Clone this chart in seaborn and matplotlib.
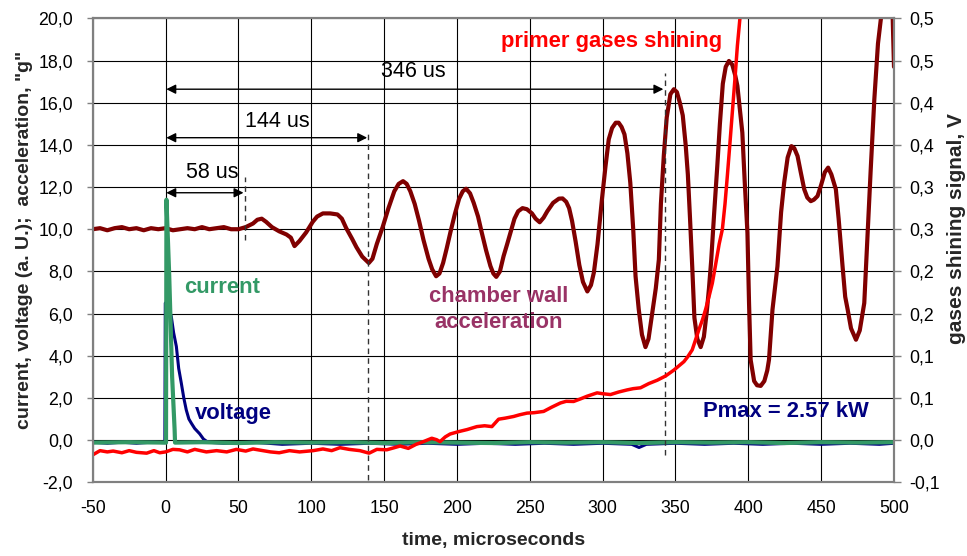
import matplotlib
matplotlib.use("Agg")
import matplotlib.pyplot as plt
import seaborn as sns
import pandas as pd
import numpy as np

# ---------------- data ----------------
acc_t = [-50, -45, -40, -35, -30, -25, -20, -15, -10, -5, 0, 5, 10, 15, 20, 25, 30, 35, 40, 45, 50, 55,
         60, 63, 66, 69, 73, 78, 83, 86, 88.5, 92, 96.5, 101, 104, 108, 113, 118, 121, 124, 128, 131,
         135, 139.5, 142, 145, 149, 153, 157, 160, 163, 165.5, 168, 171, 174, 177, 180.5, 183, 185.7,
         188, 190.5, 193, 195.5, 198.5, 201.5, 204, 206.3, 209, 211.5, 214.5, 217, 220, 223, 225, 227,
         229.5, 232, 234.5, 237, 239.5, 242, 245, 248, 251.5, 254, 256.8, 259.5, 262, 266, 270, 272.5,
         275, 277, 279, 281.5, 284, 286.5, 289.5, 292, 294, 296.5, 299.5, 302, 304.2, 306.5, 309, 311,
         313, 315, 317, 319, 321, 322.6, 324.8, 327, 329.4, 331.5, 334, 336.5, 338.6, 340, 342, 344,
         346.5, 348.9, 351, 353, 355, 357, 358.5, 360, 361.5, 363, 365, 367.3, 369.5, 371.5, 373, 374.5,
         376.5, 378.7, 380.5, 382.5, 384.5, 386.7, 389, 391, 392.5, 394, 395.9, 397.5, 399.4, 400.5,
         401.6, 404, 406, 408.5, 411, 413, 414.2, 416.6, 420, 422.5, 424.6, 427, 429.6, 431.5, 433.8,
         436, 438.4, 440.5, 442.9, 445, 447.5, 450, 452.5, 454.8, 457, 460.1, 462, 464.7, 466.5, 468.2,
         470.5, 473.9, 476.5, 479.6, 481.9, 484, 486.5, 489, 491.1, 494, 497, 499, 500]
acc_v = [10.0, 10.05, 9.95, 10.05, 10.1, 10.0, 10.05, 9.95, 10.05, 10.0, 10.05, 9.95, 10.0, 10.05, 10.0,
         10.1, 10.0, 10.05, 10.1, 10.0, 10.0, 10.1,
         10.27, 10.45, 10.5, 10.35, 10.1, 9.9, 9.75, 9.6, 9.2, 9.45, 9.85, 10.35, 10.6, 10.75, 10.75,
         10.7, 10.5, 10.05, 9.55, 9.15,
         8.7, 8.4, 8.6, 9.3, 10.1, 11.0, 11.8, 12.15, 12.28, 12.15, 11.8, 11.2, 10.4, 9.5, 8.6, 8.1, 7.77,
         7.9, 8.4, 9.1, 9.85, 10.7, 11.45, 11.8, 11.92, 11.7, 11.25, 10.6, 9.85, 9.0, 8.25, 7.9, 7.74,
         8.0, 8.72, 9.3, 9.9, 10.5, 10.85, 11.0, 10.95, 10.75, 10.5, 10.33, 10.55, 10.85, 11.25, 11.45, 11.46,
         11.3, 11.0, 10.4, 9.4, 8.3, 7.5, 7.05, 7.35, 7.95, 9.3, 11.4, 13.0, 14.26, 14.8, 15.05, 15.05,
         14.85, 14.5, 13.6, 12.2, 10.0, 7.77, 6.2, 5.0, 4.41, 4.8, 6.0, 7.2, 8.56, 11.2, 13.5, 15.3,
         16.4, 16.64, 16.5, 16.0, 15.4, 14.0, 12.6, 10.5, 8.24, 5.8, 4.8, 4.41, 4.9, 6.1, 7.2, 8.5,
         10.7, 12.99, 15.0, 16.9, 17.7, 17.98, 17.8, 17.3, 16.8, 15.8, 14.58, 12.3, 9.83, 6.5,
         3.81, 2.8, 2.6, 2.57, 2.8, 3.3, 3.81, 6.19, 8.24, 10.8, 12.2, 13.4, 13.94, 13.85, 13.47,
         12.7, 11.89, 11.5, 11.33, 11.4, 11.57, 12.1, 12.7, 12.92, 12.6, 11.89, 10.5, 8.24, 6.8, 6.19,
         5.3, 4.76, 5.2, 6.5, 9.83, 12.8, 16.16, 18.8, 20.04, 21.5, 21.5, 20.3, 17.7]

shine_t = [-50, -45, -40, -36, -30, -25, -20, -13, -8, -4, 0, 5, 9.6, 15, 20, 28, 35, 42, 48.6, 55, 60,
           66.8, 72, 78, 85, 92, 101.3, 108, 114, 119.7, 126, 133.4, 139.7, 145, 151.8, 157, 161, 166.6,
           172, 177, 182.7, 186, 188.4, 192, 195.3, 201, 207, 213.7, 219, 224, 228.6, 233, 238.9, 243,
           248.1, 253, 259.5, 265, 271, 275, 280.1, 285, 289.3, 296.2, 300, 305.4, 311, 316.8, 321, 326,
           331.7, 337.5, 343.2, 348.9, 352, 355.8, 358.5, 361.5, 364, 366.1, 368.5, 370.7, 373, 375.3,
           377.5, 380, 382.2, 384, 385.6, 387.3, 389, 390.8, 392.5, 394.3, 396]
shine_v = [-0.0175, -0.0125, -0.014, -0.013, -0.015, -0.0125, -0.0145, -0.0155, -0.0125, -0.015, -0.014,
           -0.011, -0.0115, -0.014, -0.011, -0.014, -0.0125, -0.014, -0.011, -0.013, -0.0105, -0.0125,
           -0.014, -0.015, -0.0125, -0.014, -0.0125, -0.0105, -0.0125, -0.009, -0.011, -0.0125, -0.0155,
           -0.011, -0.0115, -0.009, -0.007, -0.0098, -0.005, -0.0018, 0.0022, 0.0005, -0.0018, 0.0038,
           0.0072, 0.010, 0.0125, 0.016, 0.017, 0.016, 0.0248, 0.026, 0.028, 0.030, 0.032, 0.0325, 0.034,
           0.039, 0.044, 0.046, 0.0458, 0.049, 0.052, 0.056, 0.055, 0.054, 0.057, 0.0595, 0.061, 0.062,
           0.067, 0.071, 0.076, 0.083, 0.0875, 0.093, 0.099, 0.107, 0.120, 0.131, 0.1425, 0.155, 0.170,
           0.186, 0.2075, 0.2325, 0.250, 0.280, 0.313, 0.350, 0.388, 0.4275, 0.4675, 0.501, 0.535]

volt_t = [-50, -40, -30, -20, -10, -0.5, -0.2, 1.5, 3.9, 5.5, 7.4, 9.0, 10.8, 12.5, 14.2, 16.0, 17.7,
          20.0, 23.4, 26.0, 29.0, 40, 60, 80, 100, 120, 140, 160, 180, 200, 220, 240, 260, 280, 300,
          320, 325, 330, 350, 370, 390, 410, 430, 450, 470, 490, 500]
volt_v = [-0.1, -0.15, -0.1, -0.15, -0.1, -0.12, 6.5, 6.3, 5.87, 5.1, 4.44, 3.4, 2.7, 2.0, 1.43, 1.0,
          0.8, 0.55, 0.3, 0.05, -0.1, -0.15, -0.1, -0.2, -0.15, -0.2, -0.15, -0.2, -0.15, -0.2, -0.15,
          -0.2, -0.15, -0.2, -0.15, -0.2, -0.35, -0.2, -0.15, -0.2, -0.15, -0.2, -0.15, -0.2, -0.15,
          -0.2, -0.15]

curr_t = [-50, -25, 0.3, 0.6, 2.5, 4.5, 6.2, 6.5, 25, 50, 75, 100, 125, 150, 175, 200, 225, 250, 275,
          300, 325, 350, 375, 400, 425, 450, 475, 500]
curr_v = [-0.12, -0.1, -0.12, 11.4, 7.8, 3.0, 0.5, -0.12, -0.1, -0.14, -0.1, -0.12, -0.1, -0.14, -0.1,
          -0.12, -0.14, -0.1, -0.12, -0.1, -0.14, -0.1, -0.12, -0.1, -0.14, -0.1, -0.12, -0.1]

x_ticks = [-50, 0, 50, 100, 150, 200, 250, 300, 350, 400, 450, 500]
x_labels = ["-50", "0", "50", "100", "150", "200", "250", "300", "350", "400", "450", "500"]
y_ticks = [-2, 0, 2, 4, 6, 8, 10, 12, 14, 16, 18, 20]
y_labels = ["-2,0", "0,0", "2,0", "4,0", "6,0", "8,0", "10,0", "12,0", "14,0", "16,0", "18,0", "20,0"]
y2_ticks = [-0.05, 0.0, 0.05, 0.1, 0.15, 0.2, 0.25, 0.3, 0.35, 0.4, 0.45, 0.5]
y2_labels = ["-0,1", "0,0", "0,1", "0,1", "0,2", "0,2", "0,3", "0,3", "0,4", "0,4", "0,5", "0,5"]

# interval annotations: (label, end time, arrow level, label x, label y, dashed line bottom/top)
intervals = [
    ("58 us", 54.3, 11.73, 31.8, 12.69, 9.5, 12.5),
    ("144 us", 139.2, 14.34, 76.5, 15.09, -1.9, 14.66),
    ("346 us", 342.5, 16.64, 170.0, 17.47, -0.7, 17.43),
]

# ---------------- drawing ----------------
sns.set_theme(style="white")
plt.rcParams["font.family"] = ["Liberation Sans", "DejaVu Sans"]

fig = plt.figure(figsize=(9.67, 5.56), dpi=100)
ax = fig.add_axes([0.0959, 0.1326, 0.9245 - 0.0959, 0.967 - 0.1326])

acc = pd.DataFrame({"t": acc_t, "v": acc_v})
volt = pd.DataFrame({"t": volt_t, "v": volt_v})
curr = pd.DataFrame({"t": curr_t, "v": curr_v})
shine = pd.DataFrame({"t": shine_t, "v": shine_v})

sns.lineplot(data=acc, x="t", y="v", ax=ax, color="#800000", lw=3.0, estimator=None, sort=False)
sns.lineplot(data=volt, x="t", y="v", ax=ax, color="#000080", lw=2.2, estimator=None, sort=False)
sns.lineplot(data=curr, x="t", y="v", ax=ax, color="#339966", lw=3.0, estimator=None, sort=False)

ax.set_xlim(-50, 500)
ax.set_ylim(-2, 20)
ax.set_xticks(x_ticks)
ax.set_xticklabels(x_labels)
ax.set_yticks(y_ticks)
ax.set_yticklabels(y_labels)
ax.grid(True, color="black", lw=0.8)
ax.set_axisbelow(True)
for s in ax.spines.values():
    s.set_color("#808080")
    s.set_linewidth(1.5)
ax.tick_params(axis="both", which="major", direction="out", length=4, width=1,
               color="#808080", labelsize=12.8, labelcolor="black")
ax.tick_params(axis="y", pad=10)
ax.tick_params(axis="x", pad=9)

ax.set_xlabel("time, microseconds", fontsize=14, fontweight="bold", va="center")
ax.xaxis.set_label_coords(0.5, -0.1265)
ax.set_ylabel('current, voltage (a. U.);  acceleration, "g"', fontsize=14, fontweight="bold",
              va="center")
ax.yaxis.set_label_coords(-0.0857, 0.522)

# right axis
ax2 = ax.twinx()
sns.lineplot(data=shine, x="t", y="v", ax=ax2, color="#FF0000", lw=2.5, estimator=None, sort=False)
ax2.set_ylim(-0.05, 0.5)
ax2.set_yticks(y2_ticks)
ax2.set_yticklabels(y2_labels)
ax2.set_xlim(-50, 500)
ax2.grid(False)
for s in ax2.spines.values():
    s.set_color("#808080")
    s.set_linewidth(1.5)
ax2.tick_params(axis="y", direction="out", length=5, width=1, color="#808080",
                labelsize=12.8, labelcolor="black", pad=6)
ax2.set_ylabel("gases shining signal, V", fontsize=15, fontweight="bold", va="center",
               rotation=90)
ax2.yaxis.set_label_coords(1.0774, 0.546)
ax2.set_xlabel("")

# interval arrows and dashed markers
for label, tend, ylev, lx, ly, yb, yt in intervals:
    ax.annotate("", xy=(tend - 0.8, ylev), xytext=(0.5, ylev),
                arrowprops=dict(arrowstyle="<|-|>", color="black", lw=1.0,
                                mutation_scale=14, shrinkA=0, shrinkB=0))
    ax.plot([tend, tend], [yb, yt], color="#333333", lw=1.0, ls=(0, (4, 3)))
    ax.text(lx, ly, label, fontsize=15.5, ha="center", va="center", color="black")

# series labels
ax.text(38.9, 7.25, "current", color="#339966", fontsize=15.8, fontweight="bold",
        ha="center", va="center")
ax.text(46.3, 1.25, "voltage", color="#000080", fontsize=15.8, fontweight="bold",
        ha="center", va="center")
ax.text(228.6, 6.19, "chamber wall\nacceleration", color="#993366", fontsize=15.8,
        fontweight="bold", ha="center", va="center", linespacing=1.3)
ax.text(306.0, 18.9, "primer gases shining", color="#FF0000", fontsize=15.8,
        fontweight="bold", ha="center", va="center")
ax.text(425.7, 1.36, "Pmax = 2.57 kW", color="#000080", fontsize=15.8,
        fontweight="bold", ha="center", va="center")

fig.savefig("out.png", dpi=100, facecolor="white")
